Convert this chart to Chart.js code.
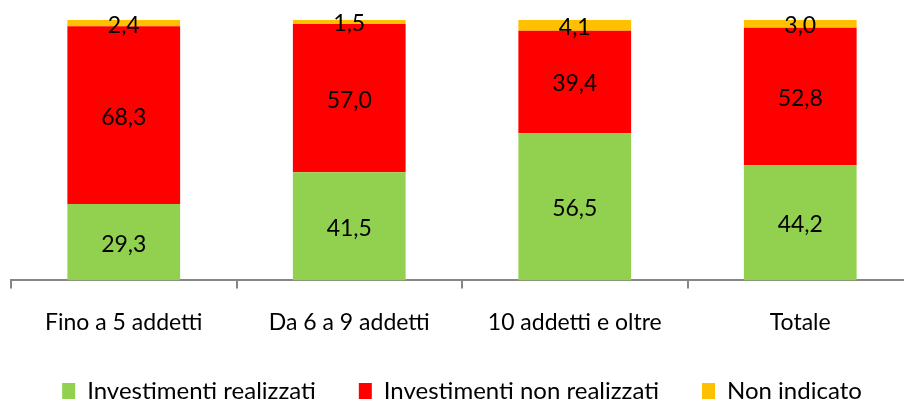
<!DOCTYPE html>
<html>
<head>
<meta charset="utf-8">
<script src="https://cdn.jsdelivr.net/npm/chart.js@4"></script>
<style>
  body { margin: 0; background: #fff; overflow: hidden; }
  #wrap { width: 920px; height: 413px; }
</style>
</head>
<body>
<div id="wrap"><canvas id="myChart"></canvas></div>
<script>
var categories = ["Fino a 5 addetti", "Da 6 a 9 addetti", "10 addetti e oltre", "Totale"];
var realizzati = [29.3, 41.5, 56.5, 44.2];
var nonRealizzati = [68.3, 57.0, 39.4, 52.8];
var nonIndicato = [2.4, 1.5, 4.1, 3.0];

// draws the value in the middle of every segment
var valueLabels = {
  id: 'valueLabels',
  afterDatasetsDraw: function(chart) {
    var ctx = chart.ctx;
    ctx.save();
    ctx.font = '23px Lato';
    ctx.fillStyle = '#000';
    ctx.textAlign = 'center';
    ctx.textBaseline = 'middle';
    chart.data.datasets.forEach(function(ds, i) {
      chart.getDatasetMeta(i).data.forEach(function(el, j) {
        var txt = ds.data[j].toFixed(1).replace('.', ',');
        ctx.fillText(txt, el.x, (el.y + el.base) / 2 + 2);
      });
    });
    ctx.restore();
  }
};

var ctx = document.getElementById('myChart').getContext('2d');
var myChart = new Chart(ctx, {
  type: 'bar',
  data: {
    labels: categories,
    datasets: [
      { label: 'Investimenti realizzati', data: realizzati, backgroundColor: '#92D050' },
      { label: 'Investimenti non realizzati', data: nonRealizzati, backgroundColor: '#FF0000' },
      { label: 'Non indicato', data: nonIndicato, backgroundColor: '#FFC000' }
    ]
  },
  options: {
    responsive: true,
    maintainAspectRatio: false,
    animation: false,
    layout: { padding: { left: 11, right: 7, top: 20, bottom: 0 } },
    datasets: { bar: { categoryPercentage: 1, barPercentage: 0.5 } },
    scales: {
      x: {
        stacked: true,
        border: { color: '#868686', width: 2 },
        grid: { drawOnChartArea: false, color: '#868686', lineWidth: 2, tickLength: 8, offset: true },
        ticks: { color: '#000', font: { family: 'Lato', size: 23 }, padding: 20 },
        afterFit: function(scale) { scale.height = scale.height - 20; }
      },
      y: {
        stacked: true,
        display: false,
        min: 0,
        max: 100
      }
    },
    plugins: {
      tooltip: { enabled: false },
      legend: {
        position: 'bottom',
        labels: {
          color: '#000',
          font: { family: 'Lato', size: 24 },
          boxWidth: 13,
          boxHeight: 16,
          padding: 43
        }
      }
    }
  },
  plugins: [valueLabels]
});
</script>
</body>
</html>
